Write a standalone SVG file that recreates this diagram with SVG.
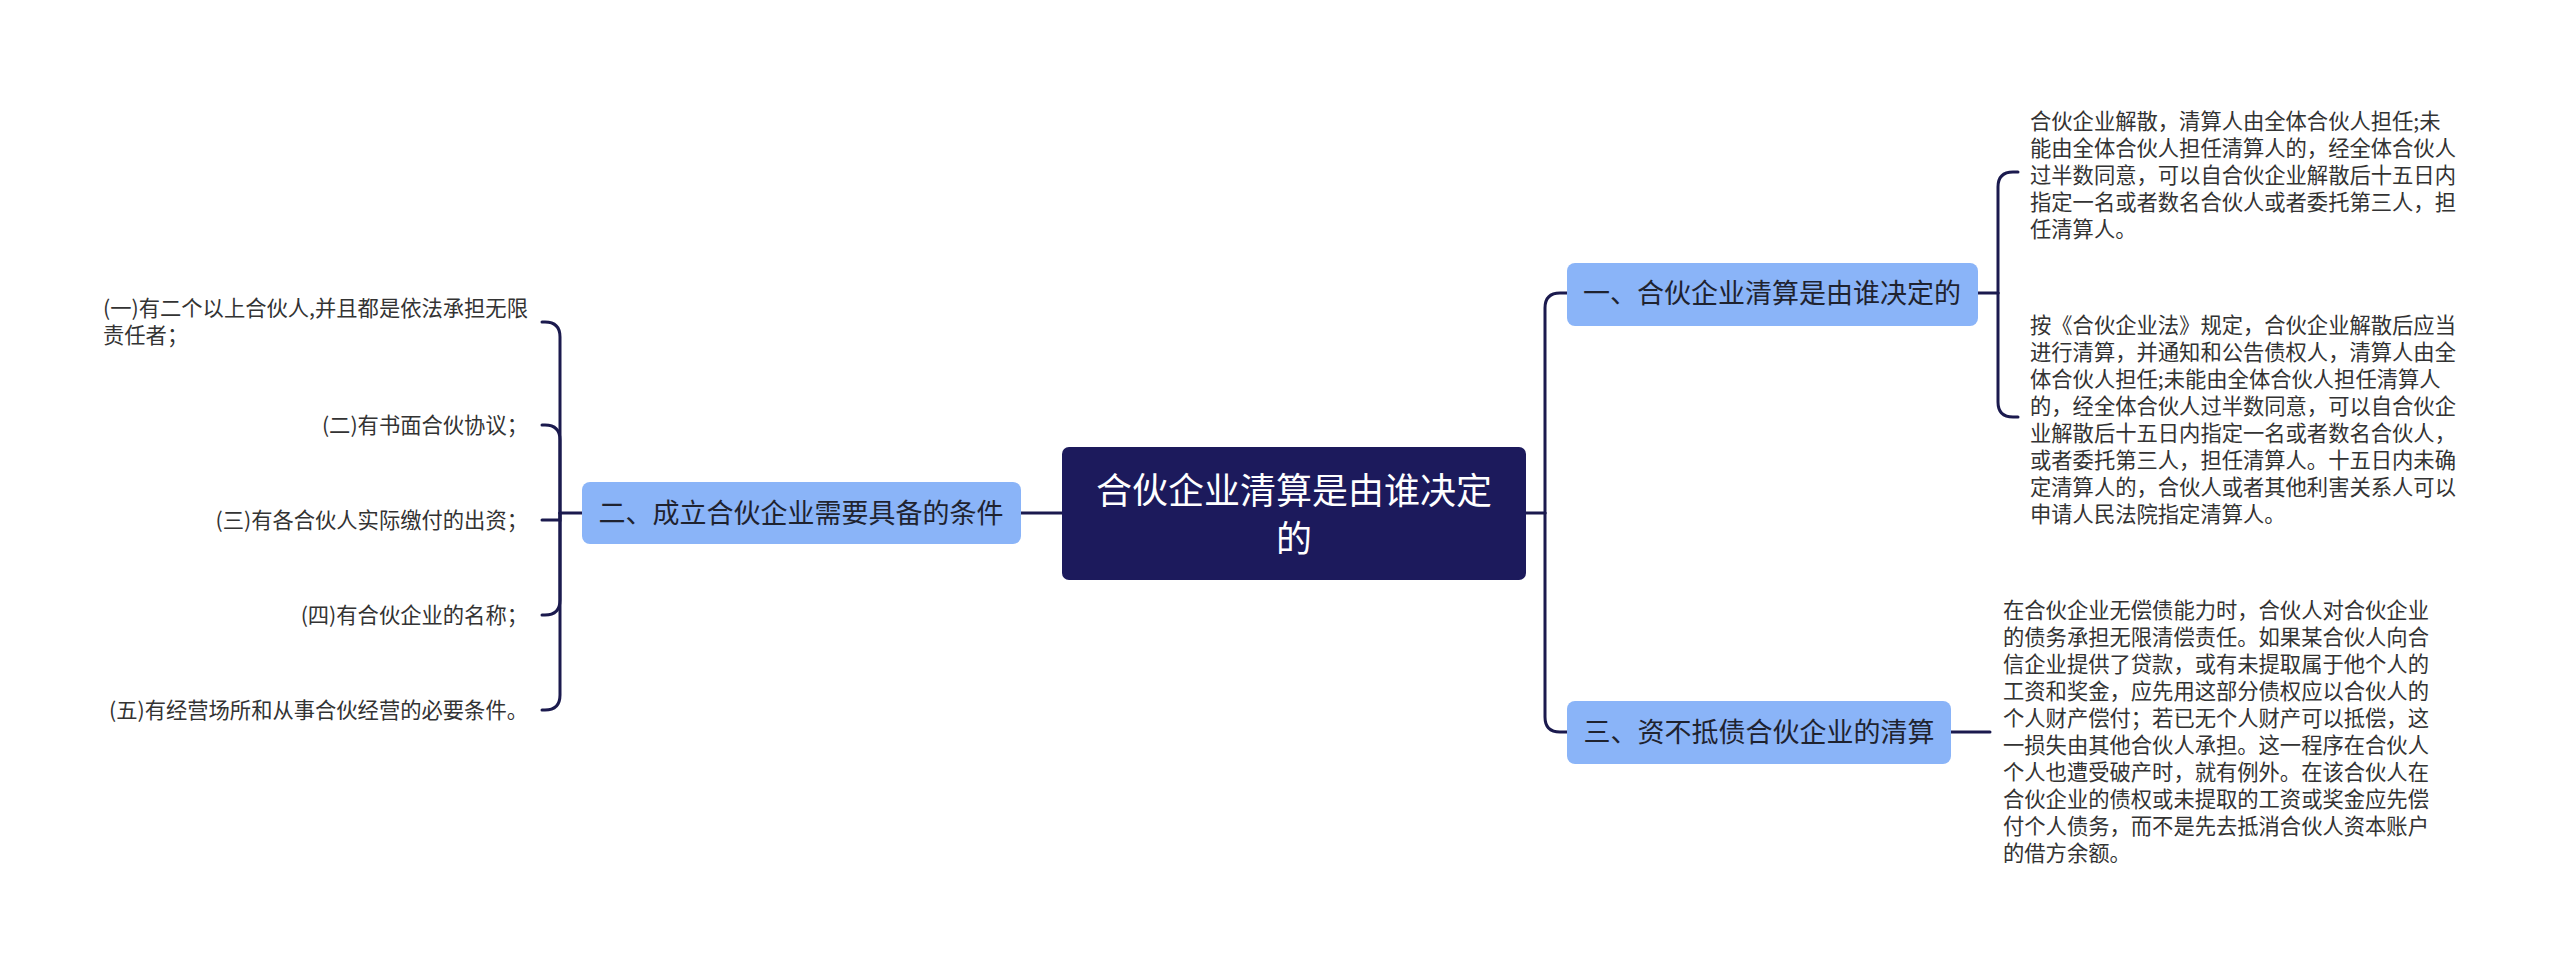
<svg xmlns="http://www.w3.org/2000/svg" width="2560" height="973" viewBox="0 0 2560 973">
<style>
.c{fill:none;stroke:#1b1a4e;stroke-width:3;stroke-linecap:round}
.n{fill:#8ab4f8}
.nt{font-family:"Noto Sans CJK SC","Noto Sans",sans-serif;font-size:27px;fill:#1f2330;text-anchor:middle}
.t{font-family:"Noto Sans CJK SC","Noto Sans",sans-serif;font-size:21.3px;fill:#333333}
.r{text-anchor:end}
.root{font-family:"Noto Sans CJK SC","Noto Sans",sans-serif;font-size:36px;fill:#ffffff;text-anchor:middle}
</style>
<rect width="2560" height="973" fill="#ffffff"/>
<g id="connectors">
<path class="c" d="M1062,513 H1021"/>
<path class="c" d="M582,513 H560"/>
<path class="c" d="M560,513 V337 Q560,322 545,322 H542"/>
<path class="c" d="M560,513 V440 Q560,425 545,425 H542"/>
<path class="c" d="M560,513 V520 H542"/>
<path class="c" d="M560,513 V600 Q560,615 545,615 H542"/>
<path class="c" d="M560,513 V695 Q560,710 545,710 H542"/>
<path class="c" d="M1526,513 H1545"/>
<path class="c" d="M1545,513 V308 Q1545,293 1560,293 H1567"/>
<path class="c" d="M1545,513 V717 Q1545,732 1560,732 H1567"/>
<path class="c" d="M1978,293 H1998"/>
<path class="c" d="M1998,293 V187 Q1998,172 2013,172 H2018"/>
<path class="c" d="M1998,293 V402 Q1998,417 2013,417 H2018"/>
<path class="c" d="M1951,732 H1990"/>
</g>
<g id="root">
<rect x="1062" y="447" width="464" height="133" rx="7" fill="#1c1a5c"/>
<text class="root" x="1294" y="504">合伙企业清算是由谁决定</text>
<text class="root" x="1294" y="552">的</text>
</g>
<g id="node1">
<rect class="n" x="1567" y="263" width="411" height="63" rx="8"/>
<text class="nt" x="1772" y="303">一、合伙企业清算是由谁决定的</text>
</g>
<g id="node2">
<rect class="n" x="582" y="482" width="439" height="62" rx="8"/>
<text class="nt" x="801" y="523">二、成立合伙企业需要具备的条件</text>
</g>
<g id="node3">
<rect class="n" x="1567" y="701" width="384" height="63" rx="8"/>
<text class="nt" x="1759" y="742">三、资不抵债合伙企业的清算</text>
</g>
<g id="leaf1a">
<text class="t" x="2030" y="129">合伙企业解散，清算人由全体合伙人担任;未</text>
<text class="t" x="2030" y="156">能由全体合伙人担任清算人的，经全体合伙人</text>
<text class="t" x="2030" y="183">过半数同意，可以自合伙企业解散后十五日内</text>
<text class="t" x="2030" y="210">指定一名或者数名合伙人或者委托第三人，担</text>
<text class="t" x="2030" y="237">任清算人。</text>
</g>
<g id="leaf1b">
<text class="t" x="2030" y="333">按《合伙企业法》规定，合伙企业解散后应当</text>
<text class="t" x="2030" y="360">进行清算，并通知和公告债权人，清算人由全</text>
<text class="t" x="2030" y="387">体合伙人担任;未能由全体合伙人担任清算人</text>
<text class="t" x="2030" y="414">的，经全体合伙人过半数同意，可以自合伙企</text>
<text class="t" x="2030" y="441">业解散后十五日内指定一名或者数名合伙人，</text>
<text class="t" x="2030" y="468">或者委托第三人，担任清算人。十五日内未确</text>
<text class="t" x="2030" y="495">定清算人的，合伙人或者其他利害关系人可以</text>
<text class="t" x="2030" y="522">申请人民法院指定清算人。</text>
</g>
<g id="leaf3">
<text class="t" x="2003" y="618">在合伙企业无偿债能力时，合伙人对合伙企业</text>
<text class="t" x="2003" y="645">的债务承担无限清偿责任。如果某合伙人向合</text>
<text class="t" x="2003" y="672">信企业提供了贷款，或有未提取属于他个人的</text>
<text class="t" x="2003" y="699">工资和奖金，应先用这部分债权应以合伙人的</text>
<text class="t" x="2003" y="726">个人财产偿付；若已无个人财产可以抵偿，这</text>
<text class="t" x="2003" y="753">一损失由其他合伙人承担。这一程序在合伙人</text>
<text class="t" x="2003" y="780">个人也遭受破产时，就有例外。在该合伙人在</text>
<text class="t" x="2003" y="807">合伙企业的债权或未提取的工资或奖金应先偿</text>
<text class="t" x="2003" y="834">付个人债务，而不是先去抵消合伙人资本账户</text>
<text class="t" x="2003" y="861">的借方余额。</text>
</g>
<g id="leaf2a">
<text class="t" x="103" y="316">(一)有二个以上合伙人,并且都是依法承担无限</text>
<text class="t" x="103" y="343">责任者；</text>
</g>
<g id="leaf2b"><text class="t r" x="528" y="433">(二)有书面合伙协议；</text></g>
<g id="leaf2c"><text class="t r" x="528" y="528">(三)有各合伙人实际缴付的出资；</text></g>
<g id="leaf2d"><text class="t r" x="528" y="623">(四)有合伙企业的名称；</text></g>
<g id="leaf2e"><text class="t r" x="528" y="718">(五)有经营场所和从事合伙经营的必要条件。</text></g>
</svg>
